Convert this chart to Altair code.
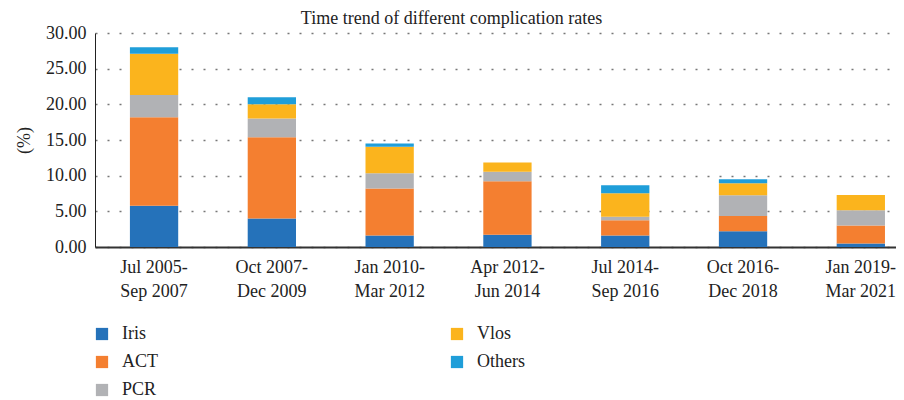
import altair as alt
import pandas as pd

periods = ["Jul 2005-Sep 2007", "Oct 2007-Dec 2009", "Jan 2010-Mar 2012",
           "Apr 2012-Jun 2014", "Jul 2014-Sep 2016", "Oct 2016-Dec 2018",
           "Jan 2019-Mar 2021"]
series = ["Iris", "ACT", "PCR", "Vlos", "Others"]
iris = [5.8, 4.0, 1.6, 1.7, 1.6, 2.2, 0.5]
act = [12.4, 11.4, 6.6, 7.5, 2.15, 2.15, 2.5]
pcr = [3.1, 2.6, 2.15, 1.35, 0.5, 2.9, 2.15]
vlos = [5.8, 2.0, 3.7, 1.3, 3.3, 1.7, 2.15]
others = [0.9, 1.0, 0.45, 0.0, 1.1, 0.55, 0.0]
colors = ["#2572BA", "#F47F30", "#B1B2B5", "#FBB41D", "#1F9ED9"]

values = [iris, act, pcr, vlos, others]
rows = []
for si, (name, vals) in enumerate(zip(series, values)):
    for p, v in zip(periods, vals):
        rows.append({"period": p, "series": name, "value": v, "ord": si})
df = pd.DataFrame(rows)

FONT = "Liberation Serif"

chart = alt.Chart(df).mark_bar().encode(
    x=alt.X("period:N", sort=periods, title=None,
            scale=alt.Scale(paddingInner=0.59, paddingOuter=0.195, align=0.76),
            axis=alt.Axis(labelAngle=0, ticks=False, domainWidth=2, domainColor="#333333",
                          labelExpr="[slice(datum.label, 0, 9), slice(datum.label, 9)]",
                          labelLineHeight=24, labelPadding=11, labelFontSize=18,
                          labelFont=FONT, labelColor="#222222", grid=False)),
    y=alt.Y("value:Q", title="(%)",
            scale=alt.Scale(domain=[0, 30], nice=False),
            axis=alt.Axis(values=[0, 5, 10, 15, 20, 25, 30], format=".2f", ticks=False,
                          domainColor="#222222", domainWidth=1,
                          labelFontSize=18, labelFont=FONT, labelColor="#222222",
                          labelPadding=9, titleFont=FONT, titleFontSize=18,
                          titleFontWeight="normal", titleColor="#222222", titlePadding=12,
                          grid=True, gridColor="#777777", gridDash=[2, 10], gridWidth=1.5)),
    color=alt.Color("series:N",
                    scale=alt.Scale(domain=series, range=colors),
                    legend=alt.Legend(title=None, orient="none", legendX=-2, legendY=292,
                                      columns=2, columnPadding=290, rowPadding=10,
                                      symbolType="square", symbolSize=150, symbolStrokeWidth=0,
                                      labelFont=FONT, labelFontSize=18, labelColor="#222222",
                                      labelOffset=11, padding=0)),
    order=alt.Order("ord:Q"),
).properties(
    width=801, height=214,
    autosize=alt.AutoSizeParams(type="none"),
    padding={"left": 87, "top": 25, "right": 0, "bottom": 160},
    title=alt.Title("Time trend of different complication rates", font=FONT, fontSize=18,
                    fontWeight="normal", color="#222222", dx=-44, dy=10, offset=6),
).configure_view(stroke=None)

chart.save("out.html", embed_options={"renderer": "svg", "actions": False})
